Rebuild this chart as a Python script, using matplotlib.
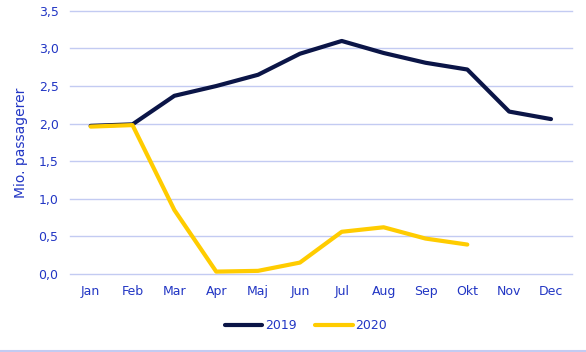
import matplotlib.pyplot as plt
import matplotlib.lines as mlines

months = ['Jan', 'Feb', 'Mar', 'Apr', 'Maj', 'Jun', 'Jul', 'Aug', 'Sep', 'Okt', 'Nov', 'Dec']
y2019 = [1.97, 1.99, 2.37, 2.50, 2.65, 2.93, 3.10, 2.94, 2.81, 2.72, 2.16, 2.06]
y2020 = [1.96, 1.98, 0.85, 0.03, 0.04, 0.15, 0.56, 0.62, 0.47, 0.39]
yticks = [0, 0.5, 1.0, 1.5, 2.0, 2.5, 3.0, 3.5]

navy = '#0b1547'
gold = '#ffcc00'
txt = '#2236c4'
grid = '#c3cbf2'

plt.rcParams['font.family'] = ['DejaVu Sans']

fig = plt.figure(figsize=(5.86, 3.52), dpi=100)
ax = fig.add_axes([0.119, 0.222, 0.857, 0.747])

x = list(range(len(months)))
ax.plot(x, y2019, color=navy, lw=3, solid_capstyle='round', label='2019', zorder=3)
ax.plot(x[:len(y2020)], y2020, color=gold, lw=3, solid_capstyle='round', label='2020', zorder=3)

ax.set_xlim(-0.5, 11.5)
ax.set_ylim(0, 3.5)
ax.set_xticks(x)
ax.set_xticklabels(months)
ax.set_yticks(yticks)
ax.set_yticklabels([f'{v:.1f}'.replace('.', ',') for v in yticks])
ax.tick_params(length=0, colors=txt, labelsize=9, pad=8)
ax.grid(axis='y', color=grid, lw=1)
for gl in ax.get_ygridlines():
    gl.set_clip_on(False)
ax.set_axisbelow(True)
for s in ax.spines.values():
    s.set_visible(False)
ax.set_ylabel('Mio. passagerer', color=txt, fontsize=10, labelpad=8)

ax.legend(loc='upper center', bbox_to_anchor=(0.47, -0.13), ncol=2, frameon=False,
          fontsize=9, labelcolor=txt, handlelength=3.0, handletextpad=0.2, columnspacing=1.5)

fig.add_artist(mlines.Line2D([0, 1], [0.003, 0.003], color=grid, lw=1.5))

fig.savefig('out.png', dpi=100)
